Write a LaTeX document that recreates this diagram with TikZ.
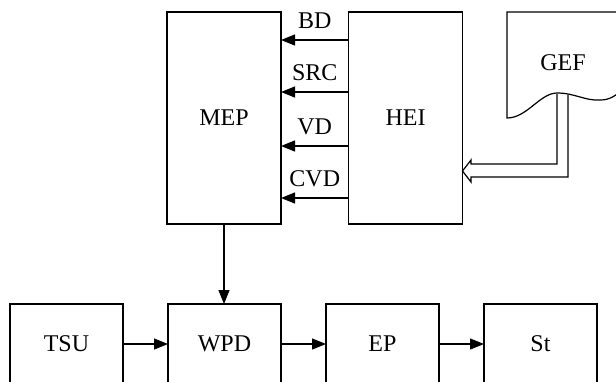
\documentclass[tikz,border=0pt]{standalone}
\usepackage{fontspec}
\setmainfont{Liberation Serif}
\usetikzlibrary{positioning, arrows.meta}

\begin{document}
\begin{tikzpicture}[
  x=0.5pt, y=-0.5pt,
  font=\fontsize{12}{14}\selectfont,
  line width=0.6pt,
  blk/.style={draw, minimum width=56.5pt, minimum height=40pt, inner sep=0pt, outer sep=0pt},
  tall/.style={blk, minimum width=57pt, minimum height=106pt},
  sig/.style={-{Triangle[length=7pt, width=5.5pt]}},
  sigl/.style={midway, above=2pt},
]
  \useasboundingbox (0,0) rectangle (616,381);
  \clip (0,0) rectangle (616,381);

  % --- Upper blocks ---
  \node[tall] (mep) at (224,118) {MEP};
  \node[tall] (hei) at (405.5,118) {HEI};

  % --- Signals HEI -> MEP ---
  \foreach \y/\t in {40/BD, 92/SRC, 146/VD, 198/CVD}
    \draw[sig] (hei.west |- 0,\y) -- node[sigl] {\t} (mep.east |- 0,\y);

  % --- Document GEF ---
  \draw (625,12) -- (507,12) -- (507,118)
    .. controls (527,118) and (540,93) .. (557,93)
    .. controls (575,93) and (585,101) .. (600,100)
    .. controls (610,100) and (615,96) .. (625,88);
  \node (gef) at (563,63) {GEF};

  % hollow arrow GEF -> HEI
  \coordinate (tip) at (hei.east |- 0,171);
  \draw (557,94) -- (557,164) -- (471,164) -- (471,160) -- (tip)
    -- (471,182) -- (471,177) -- (568,177) -- (568,95);

  % --- Lower chain ---
  \node[blk] (tsu) at (66.5,344) {TSU};
  \node[blk, right=22.5pt of tsu] (wpd) {WPD};
  \node[blk, right=22.5pt of wpd] (ep) {EP};
  \node[blk, right=22.5pt of ep] (st) {St};

  \draw[sig] (mep.south) -- (mep.south |- wpd.north);
  \draw[sig] (tsu) -- (wpd);
  \draw[sig] (wpd) -- (ep);
  \draw[sig] (ep) -- (st);

\end{tikzpicture}
\end{document}
